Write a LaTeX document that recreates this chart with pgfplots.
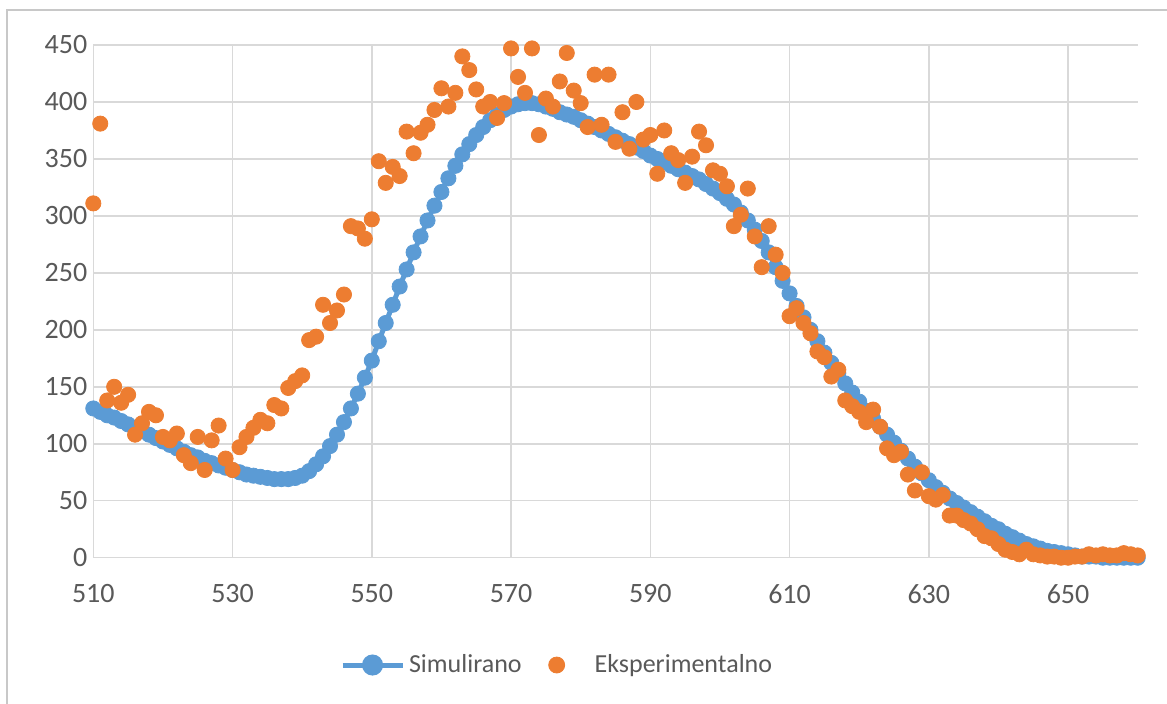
\documentclass[border=0pt]{standalone}
\usepackage{pgfplots}
\pgfplotsset{compat=1.18}
\usepackage{pgfplotstable}
\usepackage{fontspec}
\setmainfont{Carlito}

\definecolor{simblue}{HTML}{5B9BD5}
\definecolor{exporange}{HTML}{ED7D31}
\definecolor{gridgray}{HTML}{D9D9D9}
\definecolor{labelgray}{HTML}{595959}
\definecolor{framegray}{HTML}{C8C8C8}

% wavelength, simulated, experimental
\pgfplotstableread{
x sim exp
510 131 311
511 128 381
512 125 138
513 123 150
514 120 136
515 117 143
516 114 108
517 111 118
518 108 128
519 105 125
520 102 106
521 99 103
522 96 109
523 93 90
524 90 83
525 88 106
526 85 77
527 83 103
528 81 116
529 79 87
530 77 77
531 75 97
532 73 106
533 72 114
534 71 121
535 70 118
536 69 134
537 69 131
538 69 149
539 70 155
540 72 160
541 76 191
542 82 194
543 89 222
544 98 206
545 108 217
546 119 231
547 131 291
548 144 289
549 158 280
550 173 297
551 190 348
552 206 329
553 222 343
554 238 335
555 253 374
556 268 355
557 282 373
558 296 380
559 309 393
560 321 412
561 333 396
562 344 408
563 354 440
564 363 428
565 371 411
566 378 396
567 384 400
568 389 386
569 393 399
570 396 447
571 398 422
572 399 408
573 399 447
574 398 371
575 396 403
576 394 396
577 391 418
578 389 443
579 387 410
580 384 399
581 381 378
582 378 424
583 375 380
584 372 424
585 369 365
586 366 391
587 363 359
588 360 400
589 357 367
590 353 371
591 350 337
592 347 375
593 344 355
594 341 349
595 338 329
596 335 352
597 332 374
598 328 362
599 324 340
600 320 337
601 315 326
602 310 291
603 303 301
604 296 324
605 288 282
606 278 255
607 268 291
608 255 266
609 243 250
610 232 212
611 221 219
612 211 206
613 200 197
614 190 181
615 180 176
616 171 159
617 162 165
618 153 138
619 145 133
620 137 128
621 129 119
622 122 130
623 115 115
624 108 96
625 101 90
626 94 93
627 87 73
628 80 59
629 74 75
630 68 54
631 62 51
632 57 55
633 52 37
634 48 37
635 44 33
636 40 30
637 36 25
638 32 19
639 28 17
640 25 12
641 21 7
642 18 5
643 15 3
644 12 7
645 10 3
646 8 2
647 6 1
648 5 1
649 4 0
650 3 0
651 2 1
652 1 1
653 1 3
654 1 2
655 0 3
656 0 2
657 0 2
658 0 4
659 0 3
660 0 2
}\spectrum

\begin{document}
\begin{tikzpicture}
\useasboundingbox (-46.65pt,-72.65pt) rectangle (536.85pt,278.85pt);
\draw[framegray, line width=1pt] (-43.15pt,-80pt) -- (-43.15pt,273.85pt) -- (545pt,273.85pt);
\begin{axis}[
  scale only axis,
  width=522.2pt, height=256.35pt,
  xmin=510, xmax=660, ymin=0, ymax=450,
  xtick={510,530,...,650},
  ytick={0,50,...,450},
  grid=major,
  grid style={gridgray, line width=0.75pt},
  axis lines*=left,
  axis line style={gridgray, line width=0.75pt},
  major tick length=0pt,
  tick label style={font=\fontsize{14}{16}\selectfont, text=labelgray},
  /pgf/number format/assume math mode=true,
  /pgf/number format/1000 sep={},
  yticklabel style={xshift=0.5pt},
  xticklabel style={yshift=-10pt},
  clip=false,
  legend columns=2,
  legend style={draw=none, fill=none, at={(0.445,-0.2093)}, anchor=center,
    font=\fontsize{13}{15}\selectfont, text=labelgray,
    /tikz/every even column/.append style={column sep=0.5pt}},
  legend cell align=left,
]
\addplot[simblue, line width=2.5pt, mark=*, mark size=3.8pt,
  mark options={line width=0.4pt},
  legend image code/.code={
    \draw[simblue, line width=2.5pt] (0pt,0pt) -- (30pt,0pt);
    \fill[simblue] (15pt,0pt) circle (4pt);}]
  table[x=x, y=sim] {\spectrum};
\addlegendentry{Simulirano}
\addplot[exporange, only marks, mark=*, mark size=3.8pt,
  mark options={line width=0.4pt},
  legend image code/.code={
    \fill[exporange] (15pt,0pt) circle (4pt);
    \path[draw=none, fill=none] (0pt,-1pt) rectangle (32pt,1pt);}]
  table[x=x, y=exp] {\spectrum};
\addlegendentry{Eksperimentalno}
\end{axis}
\end{tikzpicture}
\end{document}
